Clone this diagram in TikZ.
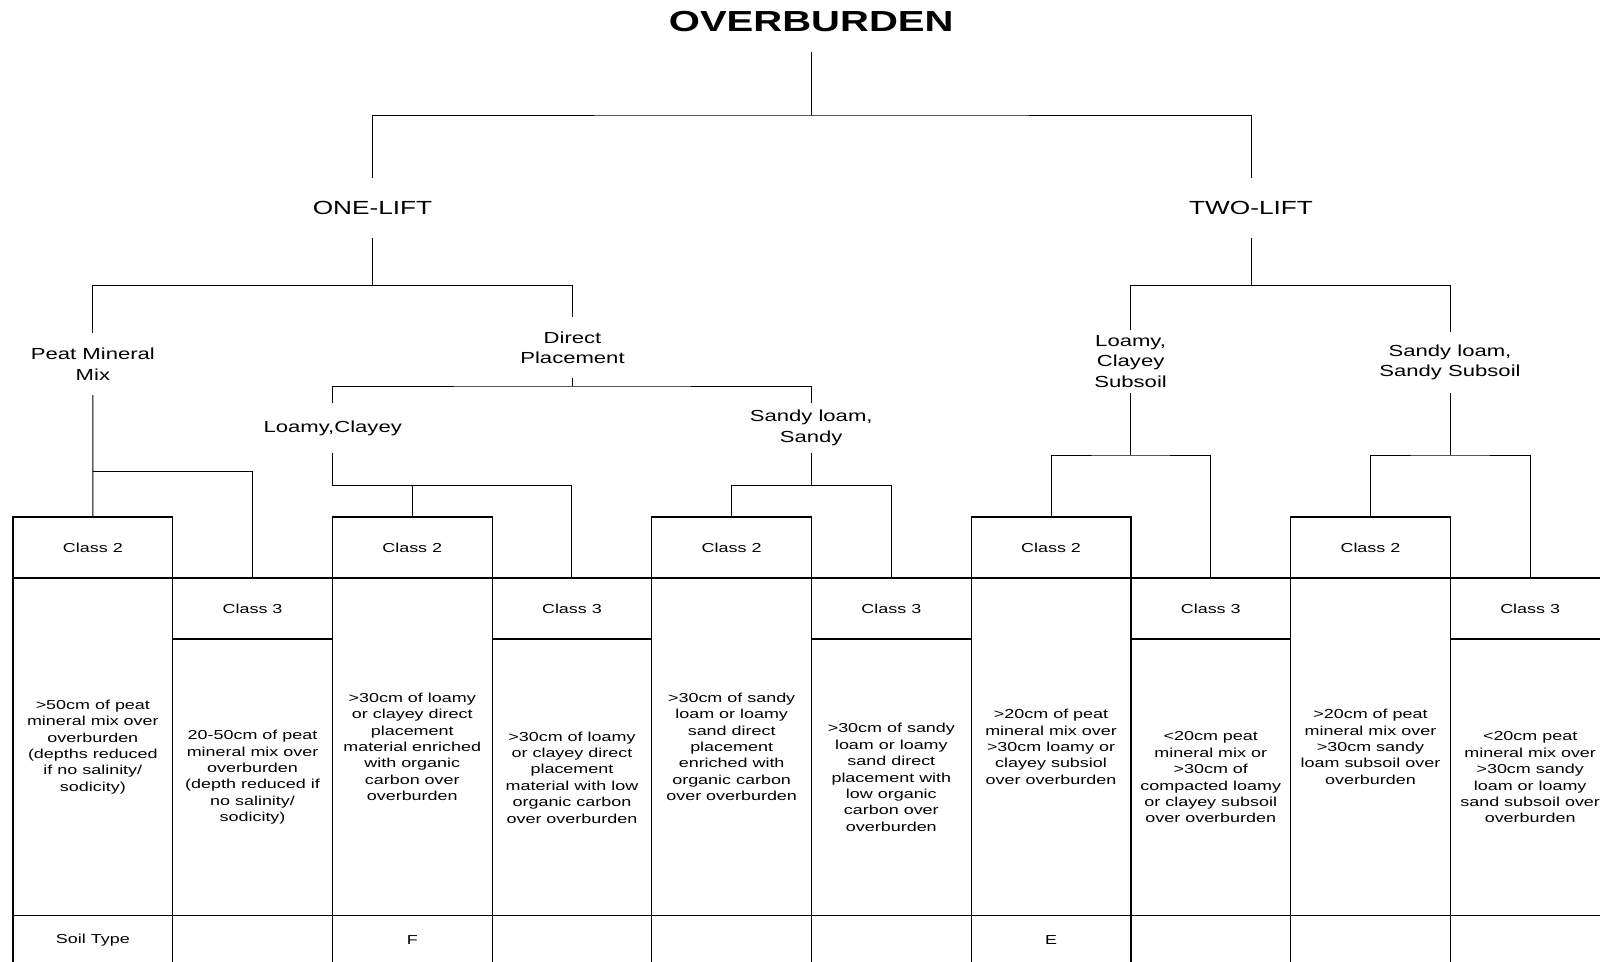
\documentclass[tikz,border=0pt]{standalone}
\usepackage{fontspec}
\setmainfont{Liberation Sans}[FakeStretch=1.38]
\usepackage{tikz}

\begin{document}
\begin{tikzpicture}[x=1pt, y=-1pt,
    every node/.style={inner sep=0pt, align=center},
    link/.style={line width=1pt},
    lift/.style={font=\fontsize{19}{24}\selectfont, minimum height=60},
    branch/.style={font=\fontsize{16}{20.4}\selectfont},
    cell/.style={draw, line width=1.2pt, minimum width=159.7, font=\fontsize{13}{16.4}\selectfont}]

      \useasboundingbox (0,0) rectangle (1600,961);

      % tree labels
      \node [font=\fontsize{29}{34}\bfseries\selectfont, minimum height=60] (root) at (811.2, 21.7) {OVERBURDEN};
      \node [lift] (one) at (372.5, 208) {ONE-LIFT};
      \node [lift] (two) at (1251, 208) {TWO-LIFT};
      \node [branch, minimum height=62] (peat) at (92.9, 364) {Peat Mineral\\Mix};
      \node [branch, minimum height=61] (direct) at (572.5, 347.5) {Direct\\Placement};
      \node [branch, minimum height=50] (loamy) at (332.7, 428) {Loamy,Clayey};
      \node [branch, minimum height=50] (sandy) at (811.2, 428) {Sandy loam,\\Sandy};
      \node [branch, minimum height=63] (lsub) at (1130.6, 361.5) {Loamy,\\Clayey\\Subsoil};
      \node [branch, minimum height=61] (ssub) at (1450, 362.5) {Sandy loam,\\Sandy Subsoil};

      % class headers
      \foreach \i/\n in {0/a, 2/b, 4/c, 6/d, 8/e}
        \node [cell, minimum height=61] (c2\n) at ({13+159.7*(\i+0.5)}, 547.5) {Class 2};
      \foreach \i/\n in {1/a, 3/b, 5/c, 7/d, 9/e}
        \node [cell, minimum height=61] (c3\n) at ({13+159.7*(\i+0.5)}, 608.5) {Class 3};

      % descriptions
      \node [cell, minimum height=337.7] (d0) at (92.85, 746.85) {>50cm of peat\\mineral mix over\\overburden\\(depths reduced\\if no salinity/\\sodicity)};
      \node [cell, minimum height=276.7] (d1) at (252.55, 777.35) {20-50cm of peat\\mineral mix over\\overburden\\(depth reduced if\\no salinity/\\sodicity)};
      \node [cell, minimum height=337.7] (d2) at (412.25, 746.85) {>30cm of loamy\\or clayey direct\\placement\\material enriched\\with organic\\carbon over\\overburden};
      \node [cell, minimum height=276.7] (d3) at (571.95, 777.35) {>30cm of loamy\\or clayey direct\\placement\\material with low\\organic carbon\\over overburden};
      \node [cell, minimum height=337.7] (d4) at (731.65, 746.85) {>30cm of sandy\\loam or loamy\\sand direct\\placement\\enriched with\\organic carbon\\over overburden};
      \node [cell, minimum height=276.7] (d5) at (891.35, 777.35) {>30cm of sandy\\loam or loamy\\sand direct\\placement with\\low organic\\carbon over\\overburden};
      \node [cell, minimum height=337.7] (d6) at (1051.05, 746.85) {>20cm of peat\\mineral mix over\\>30cm loamy or\\clayey subsiol\\over overburden};
      \node [cell, minimum height=276.7] (d7) at (1210.75, 777.35) {<20cm peat\\mineral mix or\\>30cm of\\compacted loamy\\or clayey subsoil\\over overburden};
      \node [cell, minimum height=337.7] (d8) at (1370.45, 746.85) {>20cm of peat\\mineral mix over\\>30cm sandy\\loam subsoil over\\overburden};
      \node [cell, minimum height=276.7] (d9) at (1530.15, 777.35) {<20cm peat\\mineral mix over\\>30cm sandy\\loam or loamy\\sand subsoil over\\overburden};

      % soil type row (runs off the foot of the page)
      \foreach \i/\t in {0/Soil Type, 1/, 2/F, 3/, 4/, 5/, 6/E, 7/, 8/, 9/}
        \node [cell, minimum height=49] (s\i) at ({13+159.7*(\i+0.5)}, 940.2) {\t};

      % connectors
      \coordinate (j0) at (811.2, 115);
      \draw [link] (root.south) -- (j0);
      \draw [link] (one.north) |- (j0) -| (two.north);

      \coordinate (j1) at (372.5, 285.5);
      \draw [link] (one.south) -- (j1);
      \draw [link] (peat.north) |- (j1) -| (direct.north);

      \coordinate (j2) at (572.5, 386);
      \draw [link] (direct.south) -- (j2);
      \draw [link] (loamy.north) |- (j2) -| (sandy.north);

      \coordinate (j3) at (92.85, 471.5);
      \draw [link] (peat.south) -- (j3) -- (c2a.north);
      \draw [link] (j3) -| (c3a.north);

      \coordinate (j4) at (332.7, 485.7);
      \draw [link] (loamy.south) -- (j4) -| (c3b.north);
      \draw [link] (c2b.north) -- (c2b.north |- j4);

      \coordinate (j5) at (811.2, 485.7);
      \draw [link] (sandy.south) -- (j5);
      \draw [link] (c2c.north) |- (j5) -| (c3c.north);

      \coordinate (j6) at (1251, 285.5);
      \draw [link] (two.south) -- (j6);
      \draw [link] (lsub.north) |- (j6) -| (ssub.north);

      \coordinate (j7) at (1130.6, 455);
      \draw [link] (lsub.south) -- (j7);
      \draw [link] (c2d.north) |- (j7) -| (c3d.north);

      \coordinate (j8) at (1450, 455);
      \draw [link] (ssub.south) -- (j8);
      \draw [link] (c2e.north) |- (j8) -| (c3e.north);

\end{tikzpicture}
\end{document}
